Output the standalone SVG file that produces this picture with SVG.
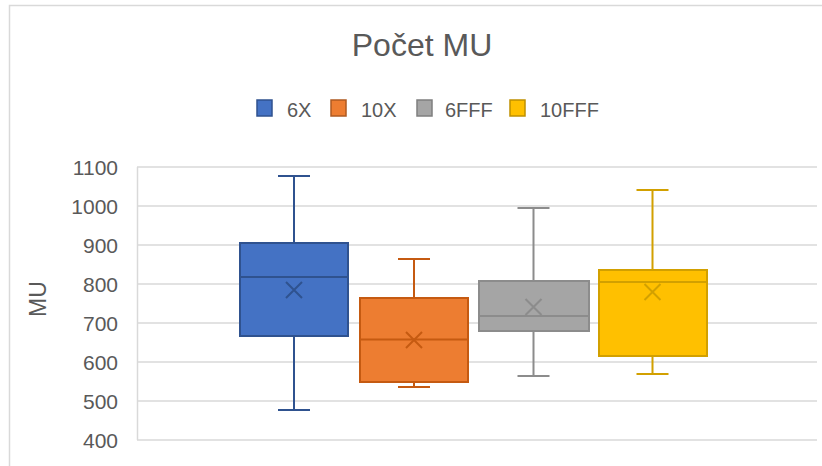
<svg xmlns="http://www.w3.org/2000/svg" width="822" height="466" viewBox="0 0 822 466">
<style>
text{font-family:"Liberation Sans",Arial,sans-serif;fill:#595959}
.grid{stroke:#D9D9D9;stroke-width:1.5}
.tick{font-size:21px;text-anchor:end}
.leg{font-size:20px}
.box{stroke-width:2}
.wh{stroke-width:2;fill:none}
</style>
<rect x="0" y="0" width="822" height="466" fill="#FFFFFF"/>
<path d="M9.5,466 V5.5 H822" fill="none" stroke="#D9D9D9" stroke-width="1.5"/>
<text x="422" y="55.5" font-size="32" text-anchor="middle">Počet MU</text>
<g id="legend">
<rect x="257" y="100" width="15" height="16" fill="#4472C4" stroke="#2F528F" stroke-width="1.5"/>
<text class="leg" x="287" y="116.5">6X</text>
<rect x="331" y="100" width="15" height="16" fill="#ED7D31" stroke="#AE5A21" stroke-width="1.5"/>
<text class="leg" x="361" y="116.5">10X</text>
<rect x="417" y="100" width="15" height="16" fill="#A5A5A5" stroke="#7F7F7F" stroke-width="1.5"/>
<text class="leg" x="445" y="116.5">6FFF</text>
<rect x="510" y="100" width="15" height="16" fill="#FFC000" stroke="#BF9000" stroke-width="1.5"/>
<text class="leg" x="540" y="116.5">10FFF</text>
</g>
<g id="axis">
<line class="grid" x1="137" y1="167" x2="817" y2="167"/>
<line class="grid" x1="137" y1="206" x2="817" y2="206"/>
<line class="grid" x1="137" y1="245" x2="817" y2="245"/>
<line class="grid" x1="137" y1="284" x2="817" y2="284"/>
<line class="grid" x1="137" y1="323" x2="817" y2="323"/>
<line class="grid" x1="137" y1="362" x2="817" y2="362"/>
<line class="grid" x1="137" y1="401" x2="817" y2="401"/>
<line class="grid" x1="137" y1="440" x2="817" y2="440"/>
<line class="grid" x1="137.5" y1="167" x2="137.5" y2="440"/>
<text class="tick" x="118" y="175">1100</text>
<text class="tick" x="118" y="214">1000</text>
<text class="tick" x="118" y="253">900</text>
<text class="tick" x="118" y="292">800</text>
<text class="tick" x="118" y="331">700</text>
<text class="tick" x="118" y="370">600</text>
<text class="tick" x="118" y="409">500</text>
<text class="tick" x="118" y="448">400</text>
<text x="0" y="0" font-size="23" text-anchor="middle" transform="translate(46,299) rotate(-90)">MU</text>
</g>
<g id="s6X" stroke="#2F528F">
<path class="wh" d="M294,176 V243 M294,336 V410 M278,176 H310 M278,410 H310"/>
<rect class="box" x="240" y="243" width="108" height="93" fill="#4472C4"/>
<line class="wh" x1="240" y1="277" x2="348" y2="277"/>
<path class="wh" d="M286,282 L302,298 M302,282 L286,298"/>
</g>
<g id="s10X" stroke="#C55A11">
<path class="wh" d="M414,259 V298 M414,382 V387 M398,259 H430 M398,387 H430"/>
<rect class="box" x="360" y="298" width="108" height="84" fill="#ED7D31"/>
<line class="wh" x1="360" y1="339.5" x2="468" y2="339.5"/>
<path class="wh" d="M406,332 L422,348 M422,332 L406,348"/>
</g>
<g id="s6FFF" stroke="#8C8C8C">
<path class="wh" d="M533.5,208 V281 M533.5,331 V376 M517.5,208 H549.5 M517.5,376 H549.5"/>
<rect class="box" x="479" y="281" width="110" height="50" fill="#A5A5A5"/>
<line class="wh" x1="479" y1="316" x2="589" y2="316"/>
<path class="wh" d="M525.5,299 L541.5,315 M541.5,299 L525.5,315"/>
</g>
<g id="s10FFF" stroke="#D2A000">
<path class="wh" d="M652.5,190 V270 M652.5,356 V374 M636.5,190 H668.5 M636.5,374 H668.5"/>
<rect class="box" x="599" y="270" width="108" height="86" fill="#FFC000"/>
<line class="wh" x1="599" y1="282" x2="707" y2="282"/>
<path class="wh" d="M644.5,284 L660.5,300 M660.5,284 L644.5,300"/>
</g>
</svg>
